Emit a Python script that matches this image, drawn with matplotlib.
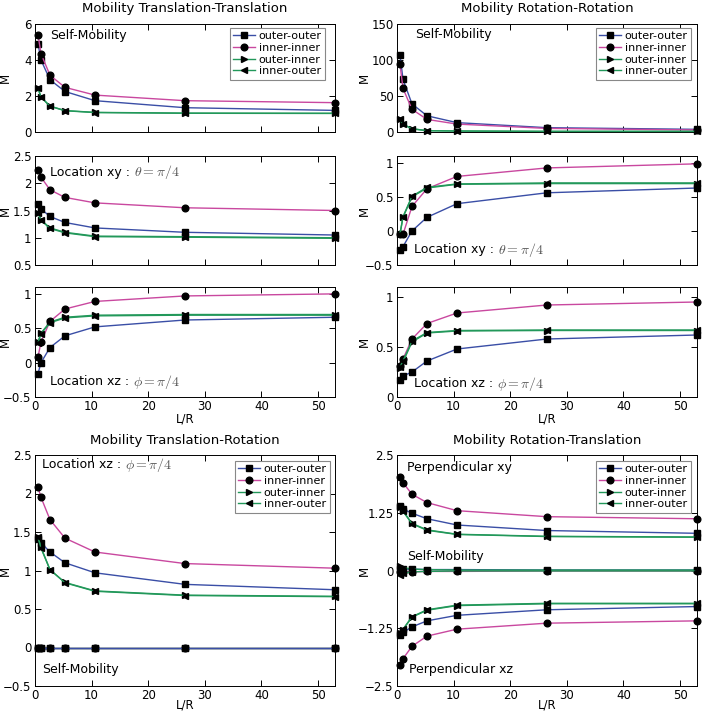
import matplotlib
matplotlib.use("Agg")
import matplotlib.pyplot as plt

plt.rcParams['font.family'] = ['DejaVu Sans']
plt.rcParams['mathtext.fontset'] = 'cm'

# ---------------- data ----------------
x_LR = [0.53, 1.06, 2.65, 5.3, 10.6, 26.5, 53]
labels = ['outer-outer', 'inner-inner', 'outer-inner', 'inner-outer']

# Translation-Translation
tt_self_oo = [4.9, 4.0, 2.9, 2.25, 1.74, 1.35, 1.2]
tt_self_ii = [5.4, 4.35, 3.15, 2.48, 2.05, 1.74, 1.63]
tt_self_oi = [2.45, 1.95, 1.44, 1.19, 1.09, 1.05, 1.04]
tt_self_io = [2.42, 1.93, 1.43, 1.18, 1.08, 1.04, 1.03]

tt_xy_oo = [1.62, 1.53, 1.39, 1.28, 1.18, 1.10, 1.05]
tt_xy_ii = [2.24, 2.11, 1.88, 1.74, 1.64, 1.55, 1.50]
tt_xy_oi = [1.46, 1.33, 1.18, 1.10, 1.03, 1.02, 1.00]
tt_xy_io = [1.45, 1.32, 1.17, 1.09, 1.02, 1.01, 0.99]

tt_xz_oo = [-0.16, 0.00, 0.22, 0.39, 0.52, 0.62, 0.66]
tt_xz_ii = [0.08, 0.30, 0.60, 0.78, 0.89, 0.97, 1.00]
tt_xz_oi = [0.30, 0.43, 0.59, 0.66, 0.69, 0.70, 0.70]
tt_xz_io = [0.29, 0.42, 0.58, 0.65, 0.68, 0.69, 0.69]

# Rotation-Rotation
rr_self_oo = [107, 73, 39, 22.5, 13, 6, 3.7]
rr_self_ii = [94, 60.5, 31.5, 17.5, 11, 5, 2.8]
rr_self_oi = [18, 11, 4.6, 1.9, 1.4, 0.9, 0.9]
rr_self_io = [17.5, 10.5, 4.4, 1.8, 1.3, 0.8, 0.8]

rr_xy_oo = [-0.28, -0.23, 0.00, 0.20, 0.40, 0.56, 0.63]
rr_xy_ii = [-0.05, -0.05, 0.36, 0.62, 0.80, 0.925, 0.985]
rr_xy_oi = [-0.05, 0.20, 0.50, 0.63, 0.685, 0.695, 0.695]
rr_xy_io = [-0.04, 0.21, 0.51, 0.64, 0.69, 0.705, 0.705]

rr_xz_oo = [0.17, 0.21, 0.25, 0.36, 0.48, 0.58, 0.62]
rr_xz_ii = [0.31, 0.38, 0.58, 0.735, 0.84, 0.92, 0.95]
rr_xz_oi = [0.29, 0.35, 0.55, 0.64, 0.66, 0.665, 0.665]
rr_xz_io = [0.30, 0.36, 0.56, 0.645, 0.665, 0.67, 0.67]

# Translation-Rotation
tr_xz_oo = [1.41, 1.36, 1.24, 1.10, 0.97, 0.82, 0.75]
tr_xz_ii = [2.08, 1.95, 1.66, 1.42, 1.24, 1.09, 1.03]
tr_xz_oi = [1.44, 1.30, 1.01, 0.845, 0.735, 0.68, 0.665]
tr_xz_io = [1.43, 1.29, 1.01, 0.84, 0.73, 0.675, 0.66]
tr_self_oo = [0, 0, 0, 0, 0, 0, 0]
tr_self_ii = [0, 0, 0, 0, 0, 0, 0]
tr_self_oi = [0, 0, 0, 0, 0, 0, 0]
tr_self_io = [0, 0, 0, 0, 0, 0, 0]

# Rotation-Translation
rt_xy_oo = [1.40, 1.33, 1.24, 1.12, 0.985, 0.865, 0.805]
rt_xy_ii = [2.03, 1.90, 1.65, 1.47, 1.295, 1.165, 1.12]
rt_xy_oi = [1.38, 1.29, 1.02, 0.88, 0.785, 0.74, 0.725]
rt_xy_io = [1.37, 1.28, 1.01, 0.87, 0.78, 0.735, 0.72]
rt_xz_oo = [-1.39, -1.34, -1.22, -1.09, -0.97, -0.85, -0.78]
rt_xz_ii = [-2.04, -1.91, -1.64, -1.42, -1.27, -1.14, -1.09]
rt_xz_oi = [-1.35, -1.28, -1.01, -0.86, -0.76, -0.72, -0.72]
rt_xz_io = [-1.34, -1.27, -1.00, -0.85, -0.75, -0.71, -0.71]
rt_self_oo = [0.04, 0.03, 0.03, 0.02, 0.02, 0.01, 0.01]
rt_self_ii = [-0.04, -0.03, -0.03, -0.02, -0.02, -0.01, -0.01]
rt_self_oi = [0.10, 0.06, 0.03, 0.02, 0.01, 0.01, 0.01]
rt_self_io = [-0.10, -0.06, -0.03, -0.02, -0.01, -0.01, -0.01]

# ---------------- styles ----------------
C_BLUE = '#3a4ea6'
C_MAG = '#c9489f'
C_GRN = '#22985a'
styles = [(C_BLUE, 's', 4.8), (C_MAG, 'o', 4.8), (C_GRN, '>', 4.8), (C_GRN, '<', 4.8)]

W = 704; H = 713
fig = plt.figure(figsize=(W / 100, H / 100), dpi=100)


def add_ax(xpix, ytop, ybot):
    return fig.add_axes([xpix / W, 1 - ybot / H, 300 / W, (ybot - ytop) / H])


def draw_set(ax, series):
    for (c, m, ms), y, lab in zip(styles, series, labels):
        ax.plot(x_LR, y, color=c, lw=1.0, marker=m, ms=ms, mfc='black',
                mec='black', clip_on=False, label=lab, zorder=3)


def draw_plain(ax, series, order=None):
    pairs = list(zip(styles, series))
    if order is not None:
        pairs = [pairs[i] for i in order]
    for (c, m, ms), y in pairs:
        ax.plot(x_LR, y, color=c, lw=1.0, marker=m, ms=ms, mfc='black',
                mec='black', clip_on=False, zorder=3)


def style_ax(ax, ylim, yticks, yticklabels=None, xlabels=False, ylabx=-0.078, xlpad=-1):
    ax.set_xlim(0, 53)
    ax.set_ylim(*ylim)
    ax.set_xticks([0, 10, 20, 30, 40, 50])
    ax.set_yticks(yticks)
    if yticklabels is not None:
        ax.set_yticklabels(yticklabels)
    ax.tick_params(direction='in', top=True, right=True, length=4, width=0.7,
                   labelsize=8.5, pad=2.5)
    if not xlabels:
        ax.set_xticklabels([])
    else:
        ax.set_xlabel('L/R', fontsize=8.5, labelpad=xlpad)
    ax.set_ylabel('M', fontsize=8.5)
    ax.yaxis.set_label_coords(ylabx, 0.5)
    for s in ax.spines.values():
        s.set_linewidth(0.7)


def add_legend(ax, anchor):
    leg = ax.legend(loc='upper right', bbox_to_anchor=anchor, fontsize=8,
                    frameon=True, fancybox=False, framealpha=1, edgecolor='#888888',
                    borderpad=0.3, labelspacing=0.15, handlelength=2.0,
                    handletextpad=0.3, borderaxespad=0)
    leg.get_frame().set_linewidth(0.8)


def label(ax, xf, yf, s, math=None):
    t = ax.text(xf, yf, s, transform=ax.transAxes, fontsize=9, va='center', ha='left')
    if math is not None:
        ax.annotate(math, xy=(1, 0.5), xycoords=t, xytext=(3, 0),
                    textcoords='offset points', fontsize=10, va='center',
                    ha='left', color='#555555')


# ---- left column: Translation-Translation ----
ax = add_ax(35, 24, 132)
draw_set(ax, [tt_self_oo, tt_self_ii, tt_self_oi, tt_self_io])
style_ax(ax, (0, 6), [0, 2, 4, 6])
add_legend(ax, (0.967, 0.963))
label(ax, 0.05, 0.89, 'Self-Mobility')
ax.set_title('Mobility Translation-Translation', fontsize=9.5, pad=8.5)

ax = add_ax(35, 156, 265)
draw_set(ax, [tt_xy_oo, tt_xy_ii, tt_xy_oi, tt_xy_io])
style_ax(ax, (0.5, 2.5), [0.5, 1, 1.5, 2, 2.5], ['0.5', '1', '1.5', '2', '2.5'])
label(ax, 0.05, 0.85, 'Location xy :', r'$\theta = \pi/4$')

ax = add_ax(35, 287, 397)
draw_set(ax, [tt_xz_oo, tt_xz_ii, tt_xz_oi, tt_xz_io])
style_ax(ax, (-0.5, 1.1), [-0.5, 0, 0.5, 1], ['\u22120.5', '0', '0.5', '1'], xlabels=True)
label(ax, 0.05, 0.14, 'Location xz :', r'$\phi = \pi/4$')

# ---- right column: Rotation-Rotation ----
ax = add_ax(397, 24, 132)
draw_set(ax, [rr_self_oo, rr_self_ii, rr_self_oi, rr_self_io])
style_ax(ax, (0, 150), [0, 50, 100, 150], ylabx=-0.088)
add_legend(ax, (0.98, 0.963))
label(ax, 0.06, 0.90, 'Self-Mobility')
ax.set_title('Mobility Rotation-Rotation', fontsize=9.5, pad=8.5)

ax = add_ax(397, 156, 265)
draw_set(ax, [rr_xy_oo, rr_xy_ii, rr_xy_oi, rr_xy_io])
style_ax(ax, (-0.5, 1.1), [-0.5, 0, 0.5, 1], ['\u22120.5', '0', '0.5', '1'], ylabx=-0.088)
label(ax, 0.057, 0.14, 'Location xy :', r'$\theta = \pi/4$')

ax = add_ax(397, 287, 397)
draw_set(ax, [rr_xz_oo, rr_xz_ii, rr_xz_oi, rr_xz_io])
style_ax(ax, (0, 1.1), [0, 0.5, 1], ['0', '0.5', '1'], xlabels=True, ylabx=-0.088)
label(ax, 0.057, 0.12, 'Location xz :', r'$\phi = \pi/4$')

# ---- bottom left: Translation-Rotation ----
ax = add_ax(35, 455, 686)
draw_set(ax, [tr_xz_oo, tr_xz_ii, tr_xz_oi, tr_xz_io])
draw_plain(ax, [tr_self_oo, tr_self_ii, tr_self_oi, tr_self_io], order=[3, 2, 1, 0])
style_ax(ax, (-0.5, 2.5), [-0.5, 0, 0.5, 1, 1.5, 2, 2.5],
         ['\u22120.5', '0', '0.5', '1', '1.5', '2', '2.5'], xlabels=True, xlpad=-2.5)
add_legend(ax, (0.983, 0.974))
label(ax, 0.023, 0.957, 'Location xz :', r'$\phi = \pi/4$')
label(ax, 0.023, 0.073, 'Self-Mobility')
ax.set_title('Mobility Translation-Rotation', fontsize=9.5, pad=8)

# ---- bottom right: Rotation-Translation ----
ax = add_ax(397, 455, 686)
draw_set(ax, [rt_xy_oo, rt_xy_ii, rt_xy_oi, rt_xy_io])
draw_plain(ax, [rt_self_oo, rt_self_ii, rt_self_oi, rt_self_io])
draw_plain(ax, [rt_xz_oo, rt_xz_ii, rt_xz_oi, rt_xz_io])
style_ax(ax, (-2.5, 2.5), [-2.5, -1.25, 0, 1.25, 2.5],
         ['\u22122.5', '\u22121.25', '0', '1.25', '2.5'], xlabels=True, ylabx=-0.088,
         xlpad=-2.5)
add_legend(ax, (0.98, 0.974))
label(ax, 0.033, 0.948, 'Perpendicular xy')
label(ax, 0.033, 0.56, 'Self-Mobility')
label(ax, 0.04, 0.073, 'Perpendicular xz')
ax.set_title('Mobility Rotation-Translation', fontsize=9.5, pad=8)

fig.savefig('out.png', dpi=100)
